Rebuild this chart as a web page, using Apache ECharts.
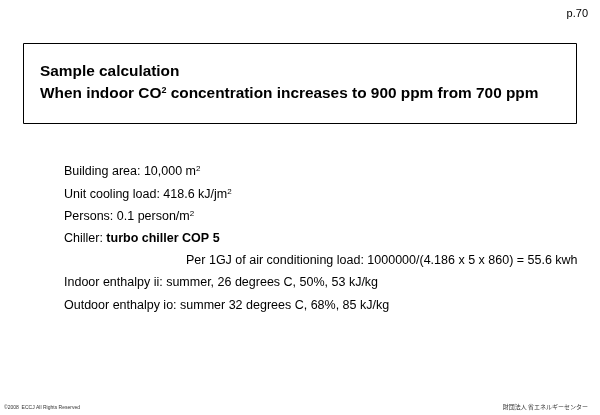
<!DOCTYPE html>
<html lang="en">
<head>
  <meta charset="UTF-8" />
  <title>Sample calculation</title>
  <script src="https://cdn.jsdelivr.net/npm/echarts@6/dist/echarts.min.js"></script>
  <style>html,body{margin:0;padding:0;background:#fff}</style>
</head>
<body>
  <div id="main" style="width:600px;height:415px;"></div>
  <script type="text/javascript">
    var pageNo = 'p.70'
    var titleLines = ['Sample calculation', 'When indoor CO{sup|2} concentration increases to 900 ppm from 700 ppm']
    // body lines: [text, x]
    var bodyLines = [
      ['Building area: 10,000 m{sup|2}', 64],
      ['Unit cooling load: 418.6 kJ/jm{sup|2}', 64],
      ['Persons: 0.1 person/m{sup|2}', 64],
      ['Chiller: {b|turbo chiller COP 5}', 64],
      ['Per 1GJ of air conditioning load: 1000000/(4.186 x 5 x 860) = 55.6 kwh', 186],
      ['Indoor enthalpy ii: summer, 26 degrees C, 50%, 53 kJ/kg', 64],
      ['Outdoor enthalpy io: summer 32 degrees C, 68%, 85 kJ/kg', 64]
    ]
    var footerLeft = '©2008  ECCJ All Rights Reserved'
    var footerRight = '財団法人 省エネルギーセンター'

    var font = 'Arial, "Liberation Sans", sans-serif'
    var myChart = echarts.init(document.getElementById('main'))

    var graphic = [
      { type: 'text', right: 12, top: 8, style: { text: pageNo, font: '11px ' + font, fill: '#000' } },
      { type: 'rect', shape: { x: 23.5, y: 43.5, width: 553, height: 80 }, style: { fill: '#fff', stroke: '#000', lineWidth: 1 } }
    ]
    titleLines.forEach(function (t, i) {
      graphic.push({
        type: 'text', left: 40, top: 64 + i * 22,
        style: { text: t, font: 'bold 15.4px ' + font, fill: '#000',
          rich: { sup: { font: 'bold 9px ' + font, padding: [0, 0, 6, 0] } } }
      })
    })
    bodyLines.forEach(function (l, i) {
      graphic.push({
        type: 'text', left: l[1], top: 165 + i * 22.3,
        style: { text: l[0], font: '12.5px ' + font, fill: '#000',
          rich: { sup: { font: '8px ' + font, padding: [0, 0, 6, 0] }, b: { font: 'bold 12.5px ' + font } } }
      })
    })
    graphic.push({ type: 'text', left: 4, top: 405, style: { text: footerLeft, font: '5px ' + font, fill: '#333' } })
    graphic.push({ type: 'text', right: 12, top: 404, style: { text: footerRight, font: '6px "Noto Sans CJK JP", sans-serif', fill: '#333' } })

    myChart.setOption({ animation: false, graphic: graphic })
  </script>
</body>
</html>
